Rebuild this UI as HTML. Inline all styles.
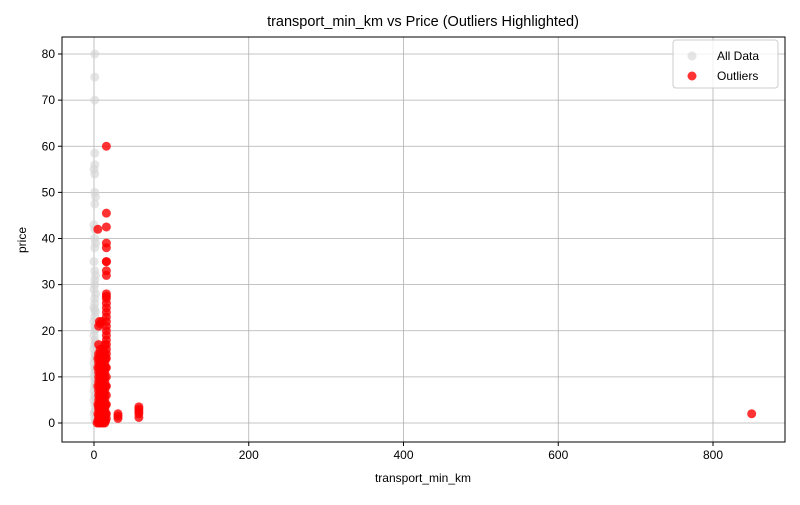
<!DOCTYPE html>
<html><head><meta charset="utf-8"><style>
body{margin:0;background:#fff;}
svg text{font-family:"Liberation Sans","DejaVu Sans",sans-serif;}
</style></head><body>
<svg id="chart" width="800" height="500" xmlns="http://www.w3.org/2000/svg">
<rect width="800" height="500" fill="#fff"/>
<text x="423" y="26" text-anchor="middle" font-size="14.5">transport_min_km vs Price (Outliers Highlighted)</text>
<g id="grid"></g>
<g id="pts"></g>
<rect x="62" y="37" width="723" height="405" fill="none" stroke="#000" stroke-width="1"/>
<g id="ticks"></g>
<text x="423" y="482" text-anchor="middle" font-size="12">transport_min_km</text>
<text x="26" y="240" text-anchor="middle" font-size="12" transform="rotate(-90 26 240)">price</text>
<g>
<rect x="673" y="40" width="105" height="48" rx="3" fill="#fff" fill-opacity="0.8" stroke="#ccc"/>
<g><circle cx="692" cy="56" r="4.5" fill="#d3d3d3" fill-opacity="0.6"/><text x="717" y="60" font-size="12">All Data</text></g>
<g><circle cx="692" cy="76" r="4.5" fill="red" fill-opacity="0.8"/><text x="717" y="80" font-size="12">Outliers</text></g>
</g>
</svg>
<script>
const xTicks=[0,200,400,600,800];
const yTicks=[0,10,20,30,40,50,60,70,80];
const allX=[1,1,1,1,1,0,1,1,2,1,0,1,1,2,1,0,1,2,1,1,0,2,1,1,0,1,2,1,0,1,2,1,0,1,2,1,0,1,2,1,0,1,2,1,0,1,2,1,0,1,2,0,1,2,1,0,1,2];
const allY=[80,75,70,58.5,56,55,54,50,49,47.5,43,42,40,39,38,35,33,32,31,30,29,28,27,26,25,24.5,24,23,22,21,20.5,20,19,18,17.5,17,16,15,14.5,14,13,12,11.5,11,10,9,8.5,8,7,6,5.5,5,4,3,2.5,2,1,0.5];
const outX=[16,16,16,16,16,16,16,16,16,16,16,16,16,16,16,16,16,16,16,16,16,16,16,16,16,16,16,16,16,16,16,16,
5,6,7,8,10,6,8,10,12,14,5,7,9,11,13,15,5,7,9,11,13,15,6,8,10,12,14,5,7,9,11,13,15,6,8,10,12,14,5,7,9,11,13,15,6,8,10,12,14,5,7,9,11,13,15,6,8,10,12,14,5,7,9,11,13,15,4,6,8,10,12,14,
6,8,10,12,14,6,8,10,12,14,6,8,10,12,14,6,8,10,12,14,6,8,10,12,14,6,8,10,12,14,6,8,10,12,14,6,8,10,12,14,
31,31,31,58,58,58,58,58,850];
const outY=[60,45.5,42.5,39,38,35,35,33,32,28,27.5,27,26,25,24,23,22,21,20,19,18,17,16,15,14,12,10,8,6,4,2,1,
42,21,22,21.5,22,17,16,15,16,17,14,14,14,14,14,14,12,12,12,12,12,12,10,10,10,10,10,8,8,8,8,8,8,6,6,6,6,6,4,4,4,4,4,4,3,3,3,3,3,2,2,2,2,2,2,1,1,1,1,1,0.5,0.5,0.5,0.5,0.5,0.5,0,0,0,0,0,0,
15,15,15,15,15,13,13,13,13,13,11,11,11,11,11,9,9,9,9,9,7,7,7,7,7,5,5,5,5,5,3.5,3.5,3.5,3.5,3.5,1.5,1.5,1.5,1.5,1.5,
1,1.5,2,1.2,2,2.5,3,3.5,2];
const X0=62,X1=785,Y0=37,Y1=442;
function sx(v){return 94+v*(713-94)/800;}
function sy(v){return 423-v*(423-54)/80;}
const NS="http://www.w3.org/2000/svg";
const grid=document.getElementById('grid'),ticks=document.getElementById('ticks'),pts=document.getElementById('pts');
function mk(tag,attrs,parent){const e=document.createElementNS(NS,tag);for(const k in attrs)e.setAttribute(k,attrs[k]);parent.appendChild(e);return e;}
xTicks.forEach(t=>{const x=sx(t);
const g=mk('line',{x1:x,x2:x,y1:Y0,y2:Y1,stroke:'#b0b0b0','stroke-width':0.8},grid);


mk('line',{x1:x,x2:x,y1:Y1,y2:Y1+4,stroke:'#000'},ticks);
const tx=mk('text',{x:x,y:Y1+17,'text-anchor':'middle','font-size':12},ticks);tx.textContent=t;

});
yTicks.forEach(t=>{const y=sy(t);
const g=mk('line',{x1:X0,x2:X1,y1:y,y2:y,stroke:'#b0b0b0','stroke-width':0.8},grid);


mk('line',{x1:X0-4,x2:X0,y1:y,y2:y,stroke:'#000'},ticks);
const tx=mk('text',{x:X0-7,y:y+4,'text-anchor':'end','font-size':12},ticks);tx.textContent=t;

});
allX.forEach((v,i)=>{const c=mk('circle',{cx:sx(v),cy:sy(allY[i]),r:4.5,fill:'#d3d3d3','fill-opacity':0.6},pts);

});
outX.forEach((v,i)=>{const c=mk('circle',{cx:sx(v),cy:sy(outY[i]),r:4.5,fill:'red','fill-opacity':0.8},pts);

});
</script>
</body></html>
